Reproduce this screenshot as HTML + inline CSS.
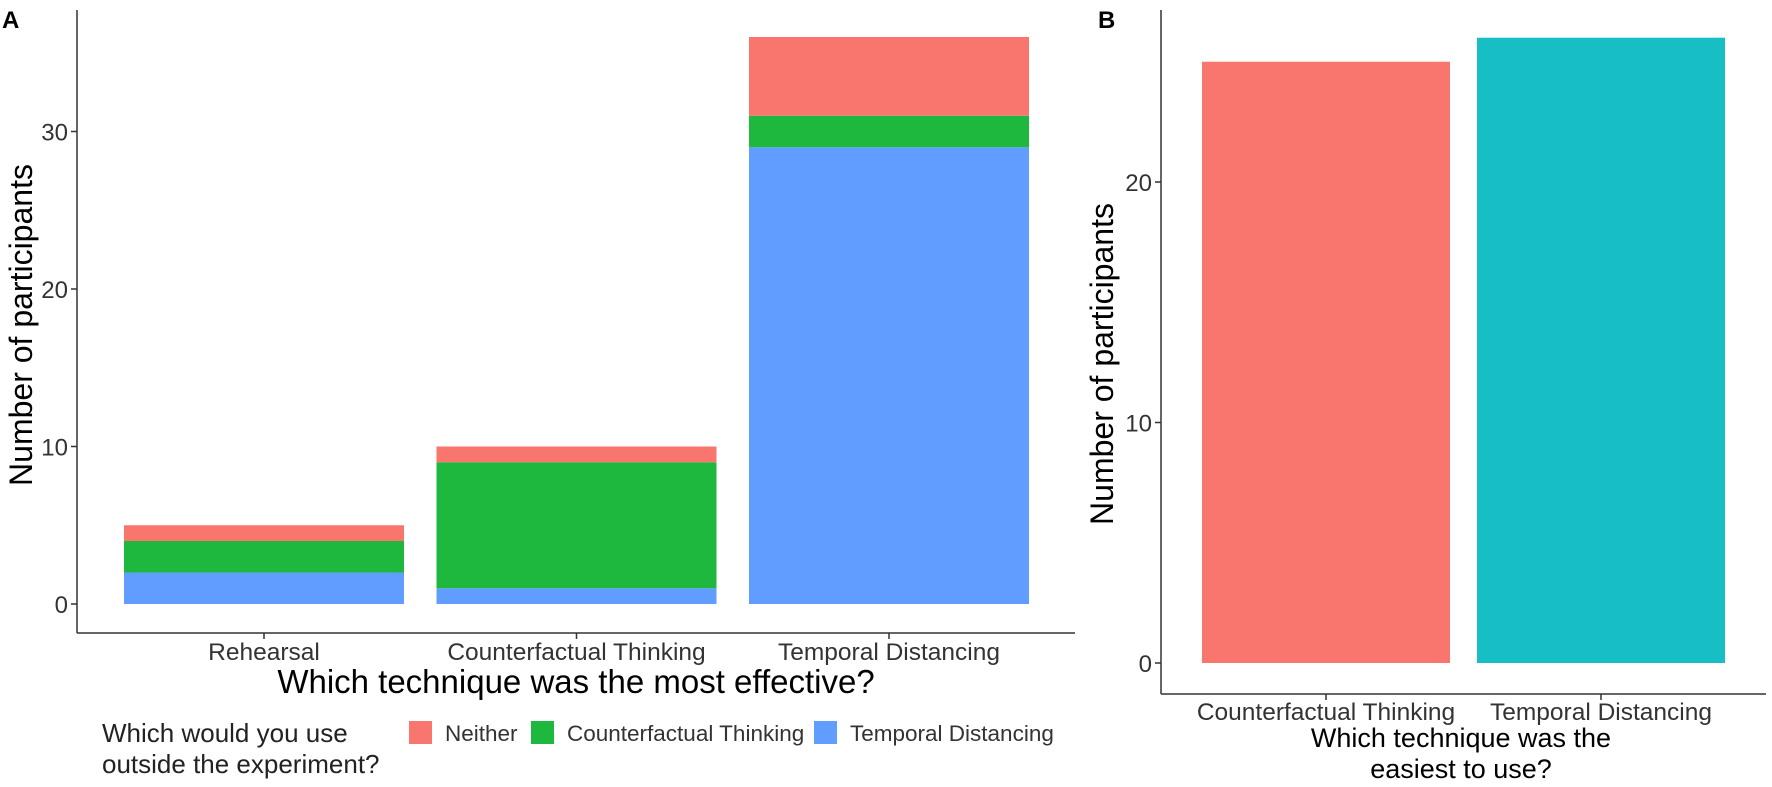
<!DOCTYPE html>
<html><head><meta charset="utf-8"><style>
body{margin:0;background:#fff;}
svg{display:block;font-family:"Liberation Sans",sans-serif;}
</style></head><body>
<svg id="c" width="1772" height="787" viewBox="0 0 1772 787"></svg>
<script>
const catsA=["Rehearsal","Counterfactual Thinking","Temporal Distancing"];
const seriesNames=["Temporal Distancing","Counterfactual Thinking","Neither"];
const valsTD=[2,1,29];
const valsCF=[2,8,2];
const valsNeither=[1,1,5];
const ticksA=[0,10,20,30];
const catsB=["Counterfactual Thinking","Temporal Distancing"];
const valsB=[25,26];
const ticksB=[0,10,20];
const colors={"Neither":"#F8766D","Counterfactual Thinking":"#1DB83D","Temporal Distancing":"#619CFF"};
const colorsB=["#F8766D","#17BFC4"];
const svg=document.getElementById('c');
const NS="http://www.w3.org/2000/svg";
function mk(t,a,p){const e=document.createElementNS(NS,t);for(const k in a)e.setAttribute(k,a[k]);(p||svg).appendChild(e);return e;}
function txt(s,a,p){const e=mk('text',a,p);e.textContent=s;return e;}
// Panel A
const yA=v=>604-v*15.75;
const bandA=i=>124+i*312.5;const bwA=280;
const gA=mk('g',{});
catsA.forEach((c,i)=>{
  let base=0;
  [["Temporal Distancing",valsTD],["Counterfactual Thinking",valsCF],["Neither",valsNeither]].forEach(([n,arr])=>{
    const v=arr[i];
    const r=mk('rect',{x:bandA(i),y:yA(base+v),width:bwA,height:yA(base)-yA(base+v),fill:colors[n]},gA);
    
    
    base+=v;
  });
  const cx=bandA(i)+bwA/2;
  mk('line',{x1:cx,x2:cx,y1:633,y2:639,stroke:'#333','stroke-width':1.5},gA);
  const t=txt(c,{x:cx,y:660,'text-anchor':'middle','font-size':24.5,fill:'#333'},gA);
  
});
mk('line',{x1:77,x2:1075,y1:633,y2:633,stroke:'#333','stroke-width':1.5},gA);
mk('line',{x1:77,x2:77,y1:10,y2:633,stroke:'#333','stroke-width':1.5},gA);
ticksA.forEach(v=>{
  mk('line',{x1:71,x2:77,y1:yA(v),y2:yA(v),stroke:'#333','stroke-width':1.5},gA);
  const t=txt(String(v),{x:68,y:yA(v)+9,'text-anchor':'end','font-size':24,fill:'#333'},gA);
  
});
let t=txt("Which technique was the most effective?",{x:576,y:693,'text-anchor':'middle','font-size':33},gA);

t=txt("Number of participants",{x:0,y:0,'text-anchor':'middle','font-size':32,transform:'translate(32,325) rotate(-90)'},gA);

t=txt("A",{x:2,y:28,'font-size':24,'font-weight':'bold'},gA);

// Legend
const lg=mk('g',{});
txt("Which would you use",{x:102,y:742,'font-size':26,fill:'#222'},lg);
txt("outside the experiment?",{x:102,y:773,'font-size':26,fill:'#222'},lg);
[["Neither",409,445],["Counterfactual Thinking",531,567],["Temporal Distancing",814,850]].forEach(([n,kx,tx])=>{
  const e=mk('rect',{x:kx,y:721,width:23,height:23,fill:colors[n]},lg);
  
  const tt=txt(n,{x:tx,y:741,'font-size':22.5,fill:'#333'},lg);
  
});
// Panel B
const yB=v=>663-v*24.05;
const bandB=i=>1202+i*275;const bwB=248;
const gB=mk('g',{});
catsB.forEach((c,i)=>{
  const r=mk('rect',{x:bandB(i),y:yB(valsB[i]),width:bwB,height:yB(0)-yB(valsB[i]),fill:colorsB[i]},gB);
  
  
  const cx=bandB(i)+bwB/2;
  mk('line',{x1:cx,x2:cx,y1:694,y2:700,stroke:'#333','stroke-width':1.5},gB);
  const tt=txt(c,{x:cx,y:720,'text-anchor':'middle','font-size':24.5,fill:'#333'},gB);
  
});
mk('line',{x1:1161,x2:1766,y1:694,y2:694,stroke:'#333','stroke-width':1.5},gB);
mk('line',{x1:1161,x2:1161,y1:10,y2:694,stroke:'#333','stroke-width':1.5},gB);
ticksB.forEach(v=>{
  mk('line',{x1:1155,x2:1161,y1:yB(v),y2:yB(v),stroke:'#333','stroke-width':1.5},gB);
  const tt=txt(String(v),{x:1152,y:yB(v)+9,'text-anchor':'end','font-size':24,fill:'#333'},gB);
  
});
t=txt("Which technique was the",{x:1461,y:747,'text-anchor':'middle','font-size':27},gB);

t=txt("easiest to use?",{x:1461,y:778,'text-anchor':'middle','font-size':27},gB);

t=txt("Number of participants",{x:0,y:0,'text-anchor':'middle','font-size':32,transform:'translate(1113,364) rotate(-90)'},gB);

t=txt("B",{x:1098,y:28,'font-size':24,'font-weight':'bold'},gB);

</script>
</body></html>
